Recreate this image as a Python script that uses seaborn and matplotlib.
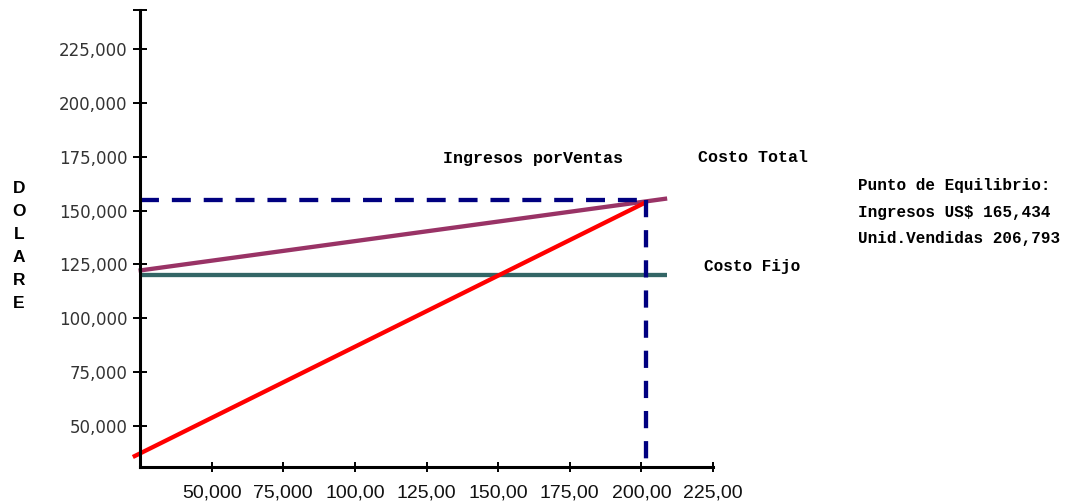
import matplotlib
matplotlib.use("Agg")
import matplotlib.pyplot as plt
import seaborn as sns
import pandas as pd

# Break-even chart data (units sold vs. dollars)
x_ticks = [50000, 75000, 100000, 125000, 150000, 175000, 200000, 225000]
x_tick_labels = ["50,000", "75,000", "100,00", "125,00", "150,00", "175,00", "200,00", "225,00"]
y_ticks = [50000, 75000, 100000, 125000, 150000, 175000, 200000, 225000]
y_tick_labels = ["50,000", "75,000", "100,000", "125,000", "150,000", "175,000", "200,000", "225,000"]

# Ingresos por Ventas (revenue line)
revenue_x = [22500, 201800]
revenue_y = [35600, 154000]
# Costo Total (total cost line)
total_cost_x = [24500, 209000]
total_cost_y = [122100, 155600]
# Costo Fijo (fixed cost line)
fixed_cost_x = [25000, 209000]
fixed_cost_y = [120000, 120000]
# Break-even guide lines
breakeven_x = 201700
breakeven_y = 155000

x_range = (25000, 225000)
y_range = (31100, 243100)

sns.set_theme(style="white")
plt.rcParams["font.family"] = ["DejaVu Sans"]

W, H = 1078, 503
fig = plt.figure(figsize=(W / 100, H / 100), dpi=100)
ax = fig.add_axes([140 / W, 1 - 466.7 / H, (713 - 140) / W, (466.7 - 10) / H])

lw = 3.1
sns.lineplot(x=fixed_cost_x, y=fixed_cost_y, ax=ax, color="#336666", lw=lw,
             estimator=None, sort=False, solid_capstyle="butt")
sns.lineplot(x=total_cost_x, y=total_cost_y, ax=ax, color="#993366", lw=lw,
             estimator=None, sort=False, clip_on=False, solid_capstyle="butt")
sns.lineplot(x=revenue_x, y=revenue_y, ax=ax, color="#FF0000", lw=lw,
             estimator=None, sort=False, clip_on=False, solid_capstyle="butt")

guides = pd.DataFrame({
    "x": [x_range[0], breakeven_x, breakeven_x],
    "y": [breakeven_y, breakeven_y, y_range[0]],
})
ax.plot(guides["x"][:2], guides["y"][:2], color="#000080", lw=lw,
        linestyle=(0, (4.4, 3.0)), dash_capstyle="butt")
ax.plot(guides["x"][1:], guides["y"][1:], color="#000080", lw=lw,
        linestyle=(0, (4.0, 3.0)), dash_capstyle="butt")

ax.set_xlim(*x_range)
ax.set_ylim(*y_range)

for side in ("top", "right"):
    ax.spines[side].set_visible(False)
for side in ("left", "bottom"):
    ax.spines[side].set_color("black")
    ax.spines[side].set_linewidth(2.2)

ax.set_xticks(x_ticks)
ax.set_xticklabels(x_tick_labels, fontsize=14, family="Liberation Sans", color="#111111")
ax.set_yticks(y_ticks)
ax.set_yticklabels(y_tick_labels, fontsize=12, family="DejaVu Sans", color="#333333")
ax.set_yticks([y_range[1]], minor=True)

ax.tick_params(axis="y", which="both", direction="inout", length=10, width=1.4,
               color="black", pad=4, left=True)
ax.tick_params(axis="x", which="major", direction="inout", length=7, width=1.4,
               color="black", pad=9, bottom=True)
ax.set_xlabel("")
ax.set_ylabel("")

def ftext(px, py, s, **kw):
    fig.text(px / W, 1 - py / H, s, va="center", **kw)

mono = dict(family="Liberation Mono", weight="bold", color="black")
ftext(443, 158, "Ingresos porVentas", fontsize=12, **mono)
ftext(698, 158, "Costo Total", fontsize=12, **mono)
ftext(704, 267, "Costo Fijo", fontsize=11.5, **mono)
ftext(858, 185.5, "Punto de Equilibrio:", fontsize=11.5, **mono)
ftext(858, 212, "Ingresos US$ 165,434", fontsize=11.5, **mono)
ftext(858, 238.5, "Unid.Vendidas 206,793", fontsize=11.5, **mono)

fig.text(19 / W, 1 - 246 / H, "\n".join("DOLARE"), ha="center", va="center",
         family="Liberation Sans", weight="bold", fontsize=12.5, linespacing=1.68,
         color="black")

fig.savefig("out.png", dpi=100)
